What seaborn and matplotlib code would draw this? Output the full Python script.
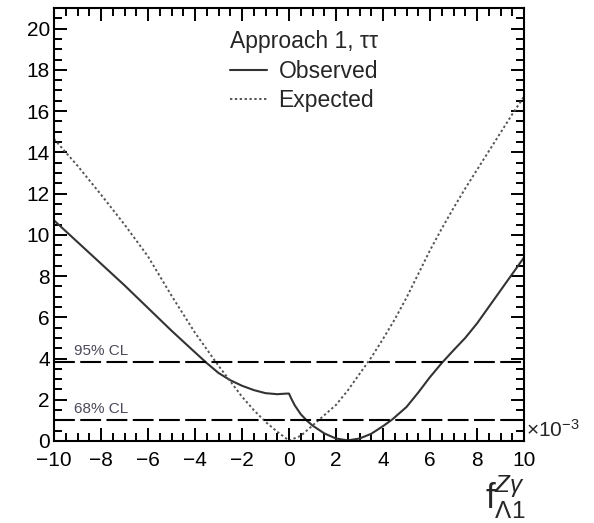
import numpy as np
import pandas as pd
import matplotlib
matplotlib.use("Agg")
import matplotlib.pyplot as plt
from matplotlib.ticker import MultipleLocator
import seaborn as sns

# ---- data ----
obs_x = [-10, -9, -8, -7, -6, -5, -4, -3.5, -3, -2.5, -2, -1.5, -1, -0.5, -0.1, 0.0,
         0.1, 0.25, 0.5, 0.75, 1.0, 1.5, 2.0, 2.5, 3.0, 3.5, 4.0, 4.4, 5.0, 5.5,
         6.0, 6.5, 7.0, 7.5, 8.0, 8.5, 9.0, 9.5, 10]
obs_y = [10.7, 9.65, 8.6, 7.55, 6.45, 5.35, 4.3, 3.78, 3.3, 2.95, 2.68, 2.47, 2.32, 2.27, 2.3, 2.3,
         2.05, 1.72, 1.3, 1.0, 0.75, 0.37, 0.12, 0.03, 0.12, 0.35, 0.72, 1.05, 1.65, 2.35,
         3.1, 3.78, 4.4, 5.0, 5.7, 6.5, 7.3, 8.1, 8.9]

exp_x = [-10, -9, -8, -7, -6, -5, -4, -3, -2.5, -2, -1.5, -1, -0.5, 0.0,
         0.5, 1.0, 1.5, 2.0, 2.5, 3.0, 3.5, 4.0, 4.5, 5.0, 5.5, 6.0, 6.5,
         7.0, 7.5, 8.0, 8.5, 9.0, 9.5, 10]
exp_y = [14.65, 13.35, 11.95, 10.5, 8.95, 7.05, 5.25, 3.65, 2.9, 2.15, 1.5, 0.93, 0.45, 0.02,
         0.25, 0.75, 1.25, 1.75, 2.45, 3.25, 4.05, 4.95, 5.9, 6.95, 8.1, 9.25, 10.3,
         11.3, 12.25, 13.15, 14.05, 14.95, 15.85, 16.7]

cl_levels = [3.84, 1.0]
cl_labels = ["95% CL", "68% CL"]
x_ticks = [-10, -8, -6, -4, -2, 0, 2, 4, 6, 8, 10]
y_ticks = [0, 2, 4, 6, 8, 10, 12, 14, 16, 18, 20]

sns.set_style("ticks")
plt.rcParams['font.family'] = ['Liberation Sans', 'DejaVu Sans']
plt.rcParams['mathtext.fontset'] = 'custom'
plt.rcParams['mathtext.rm'] = 'Liberation Sans'
plt.rcParams['mathtext.it'] = 'Liberation Sans:italic'

fig = plt.figure(figsize=(5.94, 5.23), dpi=100)
ax = fig.add_axes([54/594, 82/523, 470/594, 433/523])

df_obs = pd.DataFrame({"x": obs_x, "y": obs_y})
df_exp = pd.DataFrame({"x": exp_x, "y": exp_y})

sns.lineplot(data=df_obs, x="x", y="y", ax=ax, color="#333333", lw=1.5,
             label="Observed", sort=False)
sns.lineplot(data=df_exp, x="x", y="y", ax=ax, color="#555555", lw=1.4,
             label="Expected", sort=False)
ax.lines[1].set_linestyle((0, (1.2, 1.3)))

for lev, lab in zip(cl_levels, cl_labels):
    ax.axhline(lev, color="black", lw=1.5, dashes=(10, 2.6))
    ax.text(-9.15, lev + 0.2, lab, fontsize=11, color="#4a4a5a",
            ha="left", va="bottom")

ax.set_xlim(-10, 10)
ax.set_ylim(0, 21)
ax.set_xticks(x_ticks)
ax.set_yticks(y_ticks)
ax.xaxis.set_minor_locator(MultipleLocator(0.5))
ax.yaxis.set_minor_locator(MultipleLocator(0.5))
ax.tick_params(which="both", direction="in", top=True, right=True,
               colors="black", labelsize=15, width=1.4)
ax.tick_params(which="major", length=9.5)
ax.tick_params(axis="x", which="major", pad=7)
ax.tick_params(axis="y", which="major", pad=3)
ax.tick_params(which="minor", length=5.5)
for sp in ax.spines.values():
    sp.set_visible(True)
    sp.set_linewidth(1.5)
    sp.set_color("black")
ax.set_xlabel("")
ax.set_ylabel("")

leg = ax.legend(title="Approach 1, ττ", loc="upper left",
                bbox_to_anchor=(0.375, 0.95), frameon=False, fontsize=16.5,
                title_fontsize=16.5, handlelength=1.6, handletextpad=0.5,
                labelspacing=0.3, borderaxespad=0, borderpad=0)
leg._legend_box.align = "left"

ax.text(1.005, 0.0, r"$\times10^{-3}$", transform=ax.transAxes,
        fontsize=15, ha="left", va="bottom")
fig.text(505/594, 1 - 497/523, r"$\mathrm{f}_{\Lambda1}^{Z\gamma}$",
         fontsize=25, ha="center", va="center")

fig.savefig("out.png", dpi=100)
